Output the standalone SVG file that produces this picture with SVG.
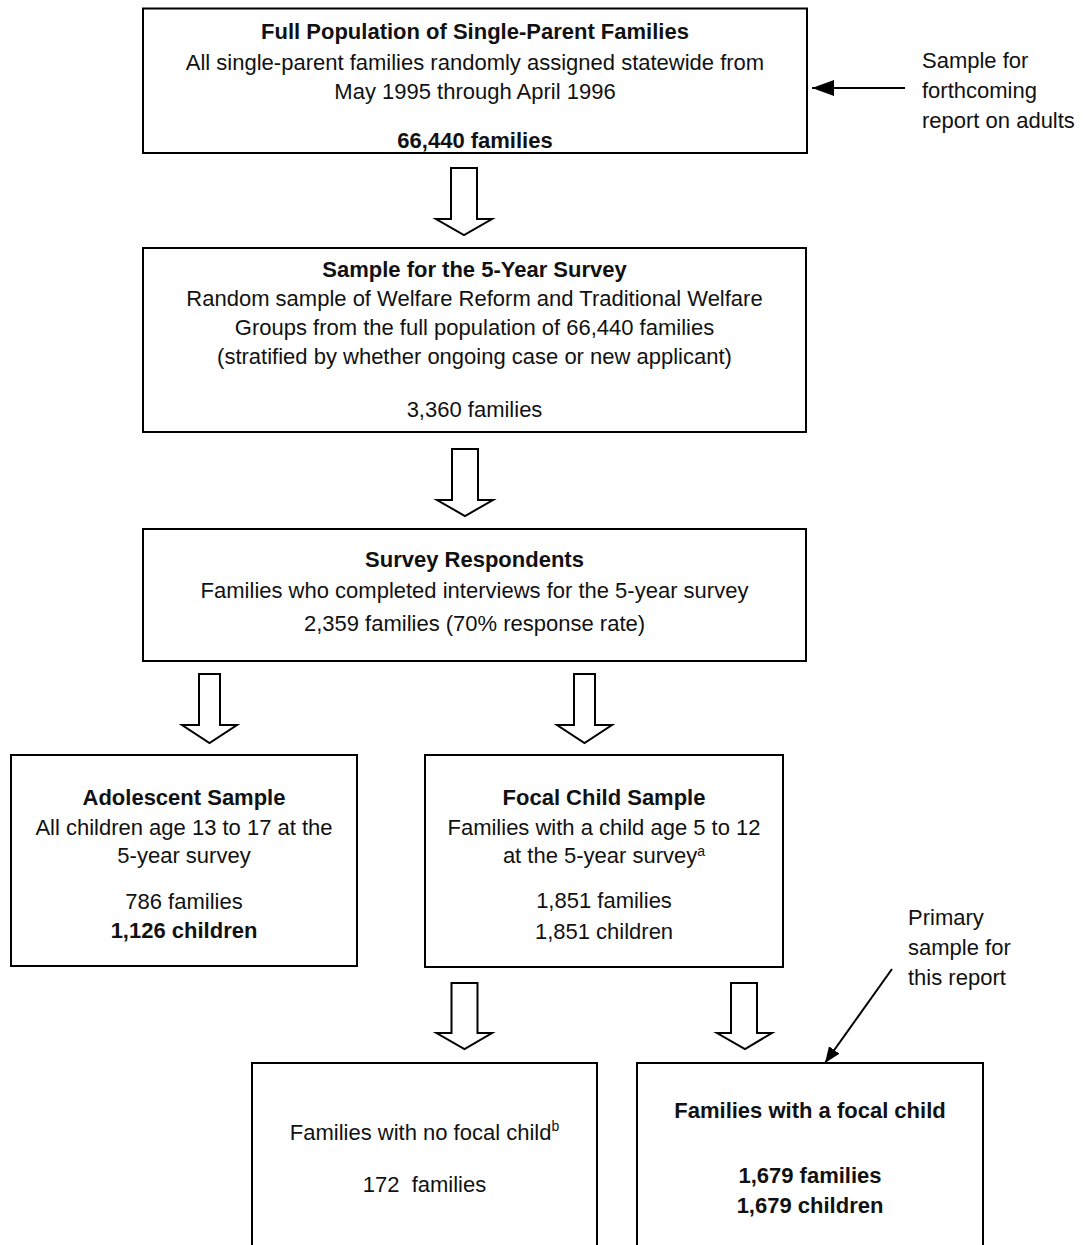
<svg xmlns="http://www.w3.org/2000/svg" width="1084" height="1245" viewBox="0 0 1084 1245">
<defs>
<style>
.box{fill:#fff;stroke:#000;stroke-width:2}
.blk{fill:#fff;stroke:#000;stroke-width:2;stroke-linejoin:miter}
.ln{fill:none;stroke:#000;stroke-width:2}
text{font-family:"Liberation Sans",Arial,sans-serif;font-size:22px;fill:#111}
.c{text-anchor:middle}
.b{font-weight:bold}
.sup{font-size:14px}
</style>
<marker id="ah1" markerUnits="userSpaceOnUse" markerWidth="24" markerHeight="18" refX="22" refY="8" orient="auto">
<path d="M0,0 L22,8 L0,16 Z" fill="#000"/>
</marker>
<marker id="ah2" markerUnits="userSpaceOnUse" markerWidth="18" markerHeight="14" refX="16" refY="6.5" orient="auto">
<path d="M0,0 L16,6.5 L0,13 Z" fill="#000"/>
</marker>
</defs>
<rect width="1084" height="1245" fill="#fff"/>

<g id="connectors">
<path class="blk" d="M451,168 H477 V219 H492 L464,235 L436,219 H451 Z"/>
<path class="blk" d="M452,449 H478 V500 H493 L465,516 L437,500 H452 Z"/>
<path class="blk" d="M199,674 H220 V725 H237 L209.5,743 L182,725 H199 Z"/>
<path class="blk" d="M574,674 H595 V725 H612 L584.5,743 L557,725 H574 Z"/>
<path class="blk" d="M451.5,983 H477.5 V1033 H492 L464.5,1049 L436.5,1033 H451.5 Z"/>
<path class="blk" d="M731,983 H757 V1033 H772 L745,1049 L717,1033 H731 Z"/>
<line class="ln" x1="905" y1="88" x2="812" y2="88" marker-end="url(#ah1)"/>
<line class="ln" x1="892" y1="969" x2="825" y2="1063" marker-end="url(#ah2)"/>
</g>

<g id="full-population">
<rect class="box" x="143" y="8.5" width="664" height="144.5"/>
<text class="c b" x="475" y="39">Full Population of Single-Parent Families</text>
<text class="c" x="475" y="70">All single-parent families randomly assigned statewide from</text>
<text class="c" x="475" y="99">May 1995 through April 1996</text>
<text class="c b" x="475" y="148">66,440 families</text>
</g>

<g id="adults-note">
<text x="922" y="68">Sample for</text>
<text x="922" y="98">forthcoming</text>
<text x="922" y="128">report on adults</text>
</g>

<g id="five-year-sample">
<rect class="box" x="143" y="248" width="663" height="184"/>
<text class="c b" x="474.5" y="277">Sample for the 5-Year Survey</text>
<text class="c" x="474.5" y="306">Random sample of Welfare Reform and Traditional Welfare</text>
<text class="c" x="474.5" y="335">Groups from the full population of 66,440 families</text>
<text class="c" x="474.5" y="364">(stratified by whether ongoing case or new applicant)</text>
<text class="c" x="474.5" y="417">3,360 families</text>
</g>

<g id="respondents">
<rect class="box" x="143" y="529" width="663" height="132"/>
<text class="c b" x="474.5" y="567">Survey Respondents</text>
<text class="c" x="474.5" y="598">Families who completed interviews for the 5-year survey</text>
<text class="c" x="474.5" y="631">2,359 families (70% response rate)</text>
</g>

<g id="adolescent">
<rect class="box" x="11" y="755" width="346" height="211"/>
<text class="c b" x="184" y="805">Adolescent Sample</text>
<text class="c" x="184" y="835">All children age 13 to 17 at the</text>
<text class="c" x="184" y="863">5-year survey</text>
<text class="c" x="184" y="909">786 families</text>
<text class="c b" x="184" y="938">1,126 children</text>
</g>

<g id="focal-child-sample">
<rect class="box" x="425" y="755" width="358" height="212"/>
<text class="c b" x="604" y="805">Focal Child Sample</text>
<text class="c" x="604" y="835">Families with a child age 5 to 12</text>
<text class="c" x="604" y="863">at the 5-year survey<tspan class="sup" dy="-7">a</tspan></text>
<text class="c" x="604" y="908">1,851 families</text>
<text class="c" x="604" y="939">1,851 children</text>
</g>

<g id="primary-note">
<text x="908" y="925">Primary</text>
<text x="908" y="955">sample for</text>
<text x="908" y="985">this report</text>
</g>

<g id="no-focal-child">
<rect class="box" x="252" y="1063" width="345" height="200"/>
<text class="c" x="424.5" y="1140">Families with no focal child<tspan class="sup" dy="-9">b</tspan></text>
<text class="c" x="424.5" y="1192" xml:space="preserve">172  families</text>
</g>

<g id="with-focal-child">
<rect class="box" x="637" y="1063" width="346" height="200"/>
<text class="c b" x="810" y="1118">Families with a focal child</text>
<text class="c b" x="810" y="1183">1,679 families</text>
<text class="c b" x="810" y="1213">1,679 children</text>
</g>
</svg>
